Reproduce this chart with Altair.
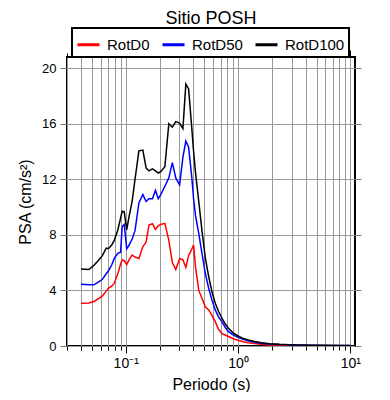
import altair as alt
import pandas as pd

periods = [0.040, 0.047, 0.052, 0.057, 0.062, 0.067, 0.070, 0.075, 0.079, 0.085,
           0.090, 0.093, 0.097, 0.102, 0.107, 0.114, 0.121, 0.131, 0.142, 0.152,
           0.161, 0.173, 0.184, 0.195, 0.205, 0.223, 0.242, 0.260, 0.279, 0.302,
           0.323, 0.343, 0.363, 0.389, 0.402, 0.418, 0.447, 0.479, 0.512, 0.548,
           0.586, 0.627, 0.670, 0.718, 0.768, 0.822, 0.904, 1.0, 1.11, 1.23,
           1.41, 1.62, 1.91, 2.34, 3.18, 4.31, 5.84, 7.92, 10.0]

rotd0 = [3.07, 3.1, 3.2, 3.4, 3.6, 3.95, 4.15, 4.3, 4.5, 5.2,
         5.9, 6.19, 6.14, 5.85, 6.2, 6.55, 6.4, 6.3, 7.14, 7.5,
         8.7, 8.8, 8.4, 8.65, 8.75, 8.83, 7.6, 6.0, 5.5, 6.3,
         6.2, 5.65, 6.5, 7.0, 7.27, 5.7, 4.0, 3.4, 2.8, 2.6,
         2.2, 1.75, 1.2, 0.9, 0.79, 0.68, 0.52, 0.42, 0.31, 0.24,
         0.18, 0.12, 0.08, 0.06, 0.04, 0.03, 0.025, 0.02, 0.02]

rotd50 = [4.44, 4.4, 4.4, 4.6, 4.8, 5.2, 5.4, 5.83, 6.3, 6.67,
          6.75, 8.6, 8.75, 7.0, 7.25, 7.7, 8.3, 10.3, 10.9, 10.4,
          10.6, 10.6, 11.2, 10.6, 10.9, 11.5, 12.1, 13.2, 12.1, 11.6,
          13.6, 14.75, 14.3, 12.0, 10.6, 9.4, 8.1, 6.6, 5.2, 4.15,
          3.3, 2.6, 2.1, 1.75, 1.35, 1.03, 0.8, 0.62, 0.48, 0.38,
          0.27, 0.19, 0.14, 0.1, 0.07, 0.05, 0.04, 0.035, 0.03]

rotd100 = [5.55, 5.5, 5.8, 6.15, 6.5, 7.05, 7.0, 7.27, 7.6, 8.35,
           9.2, 9.7, 9.65, 8.35, 9.3, 10.4, 12.0, 14.05, 14.1, 12.8,
           12.6, 12.75, 12.6, 12.45, 12.55, 12.9, 16.0, 15.75, 16.15, 16.05,
           15.65, 18.85, 18.5, 15.5, 14.0, 12.5, 10.4, 8.2, 6.3, 5.0,
           3.9, 3.07, 2.5, 2.0, 1.6, 1.27, 0.95, 0.72, 0.55, 0.43,
           0.32, 0.24, 0.17, 0.12, 0.08, 0.06, 0.05, 0.04, 0.035]

series_names = ["RotD0", "RotD50", "RotD100"]
series_colors = ["red", "blue", "black"]

x_ticks = [0.03, 0.04, 0.05, 0.06, 0.07, 0.08, 0.09,
           0.1, 0.2, 0.3, 0.4, 0.5, 0.6, 0.7, 0.8, 0.9,
           1, 2, 3, 4, 5, 6, 7, 8, 9, 10]
y_ticks = [0, 4, 8, 12, 16, 20]

rows = []
for name, vals in zip(series_names, [rotd0, rotd50, rotd100]):
    for p, v in zip(periods, vals):
        rows.append({"Periodo": p, "PSA": v, "Serie": name})
df = pd.DataFrame(rows)

FONT = "Liberation Sans"
xscale = alt.Scale(type="log", domain=[0.03, 11], nice=False)
yscale = alt.Scale(domain=[0, 20.8], nice=False, zero=True)
major = "datum.value == 0.1 || datum.value == 1 || datum.value == 10"

color = alt.Color(
    "Serie:N",
    scale=alt.Scale(domain=series_names, range=series_colors),
    legend=alt.Legend(
        orient="none", legendX=5, legendY=-29, direction="horizontal", columns=3,
        title=None, symbolType="stroke", symbolSize=484, symbolStrokeWidth=3,
        labelFont=FONT, labelFontSize=15, labelColor="black", labelOffset=6,
        columnPadding=6, padding=4, strokeColor="black", fillColor="white",
    ),
)

main = alt.Chart(df).mark_line(strokeWidth=1.5, clip=True).encode(
    x=alt.X("Periodo:Q", scale=xscale, axis=alt.Axis(
        orient="bottom", values=x_ticks, grid=True, gridColor="#9a9a9a", gridWidth=1,
        labelExpr="datum.value == 0.1 ? '10⁻¹' : datum.value == 1 ? '10⁰' : datum.value == 10 ? '10¹' : ''",
        labelOverlap=False, labelFlush=False, labelFont=FONT, labelFontSize=14,
        labelColor="black", labelPadding=3,
        tickColor="black", tickWidth=1,
        tickSize={"condition": {"test": major, "value": 7}, "value": 4},
        domain=False, title="Periodo (s)", titleFont=FONT, titleFontSize=16,
        titleFontWeight="normal", titleColor="black", titlePadding=6)),
    y=alt.Y("PSA:Q", scale=yscale, axis=alt.Axis(
        orient="left", values=y_ticks, grid=True, gridColor="#9a9a9a", gridWidth=1,
        labelFont=FONT, labelFontSize=13, labelColor="black", labelPadding=4,
        tickColor="#777777", tickSize=7, domain=False,
        title="PSA (cm/s²)", titleFont=FONT, titleFontSize=16,
        titleFontWeight="normal", titleColor="black", titlePadding=8)),
    color=color,
)

mirror = alt.Chart(df).mark_line(strokeOpacity=0).encode(
    x=alt.X("Periodo:Q", scale=xscale, axis=alt.Axis(
        orient="top", values=x_ticks, grid=False, labels=False, title=None,
        tickColor="black", tickWidth=1,
        tickSize={"condition": {"test": major, "value": 7}, "value": 4},
        domain=False)),
    y=alt.Y("PSA:Q", scale=yscale, axis=alt.Axis(
        orient="right", values=y_ticks, grid=False, labels=False, title=None,
        tickColor="#777777", tickSize=6, domain=False)),
    detail="Serie:N",
)

chart = alt.layer(main, mirror).resolve_axis(x="independent", y="independent").properties(
    width=288, height=289,
    title=alt.Title("Sitio POSH", font=FONT, fontSize=18, fontWeight="normal",
                    color="black", anchor="middle", frame="group", offset=-1),
    padding={"left": 59, "top": 49, "right": 27, "bottom": 46},
    autosize=alt.AutoSizeParams(type="none"),
).configure_view(stroke="black", strokeWidth=2).configure_legend(strokeWidth=2)

chart.save("out.html", embed_options={"renderer": "svg", "actions": False})
